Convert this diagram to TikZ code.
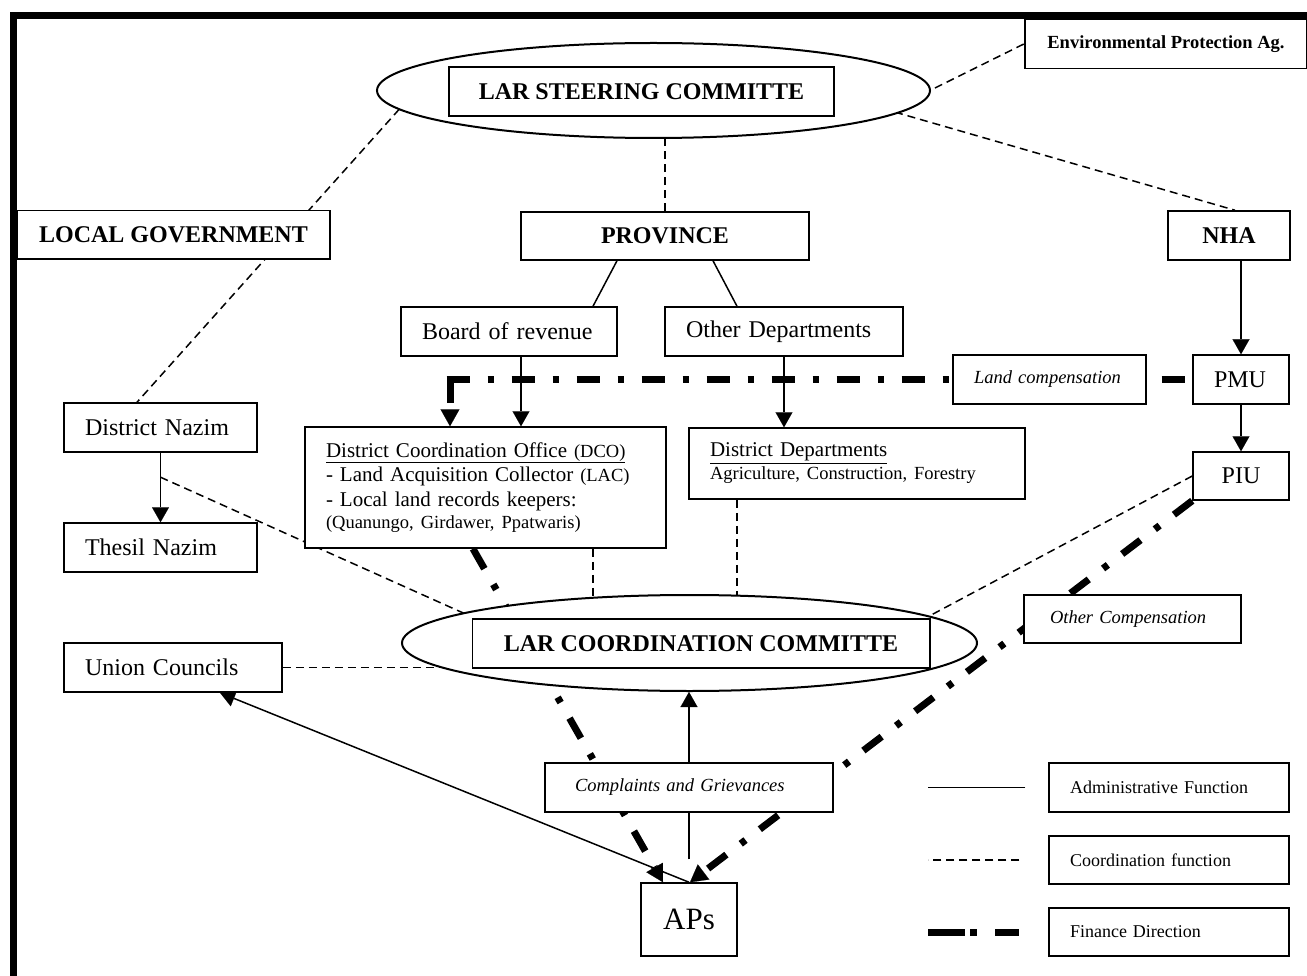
\documentclass[tikz,border=0pt]{standalone}
\usepackage{fontspec}
\setmainfont{Liberation Serif}
\usetikzlibrary{shapes.geometric,arrows.meta,calc,backgrounds}
\begin{document}
\begin{tikzpicture}[x=1pt,y=-1pt,
  bx/.style={draw, line width=1.5pt, fill=white, inner sep=0pt, align=center},
  lb/.style={bx, align=left, inner xsep=21pt},
  ell/.style={ellipse, draw, line width=2pt, fill=white, inner sep=0pt},
  hd/.style={font=\fontsize{24}{28}\selectfont\bfseries},
  nm/.style={font=\fontsize{24}{28}\selectfont},
  smi/.style={font=\fontsize{18.5}{22}\selectfont\itshape},
  lgt/.style={font=\fontsize{18}{22}\selectfont},
  adm/.style={line width=1.5pt, -{Triangle[length=15pt,width=17pt,line width=0.1pt]}},
  admline/.style={line width=1.5pt},
  crd/.style={line width=1.5pt, dash pattern=on 8pt off 5pt},
  fin/.style={line width=7pt, dash pattern=on 23pt off 18pt on 6pt off 18pt},
  fintip/.style={-{Triangle[length=17pt,width=19pt,line width=0.1pt]}},
]
\useasboundingbox (0,0) rectangle (1307,976);

% ---- nodes ----
\node[ell, minimum width=553pt, minimum height=95pt] (steer) at (653.5,90.5) {};
\node[bx, hd, minimum width=385pt, minimum height=49pt] (steerin) at (641.5,91.5) {LAR STEERING COMMITTE};
\node[bx, font=\fontsize{18.5}{22}\selectfont\bfseries, minimum width=282pt, minimum height=49pt] (env) at (1166,43.8) {Environmental Protection Ag.};
\node[bx, hd, minimum width=313pt, minimum height=48.5pt] (lg) at (173.5,235) {LOCAL GOVERNMENT};
\node[bx, hd, minimum width=288pt, minimum height=48pt] (prov) at (665,236) {PROVINCE};
\node[bx, hd, minimum width=122pt, minimum height=49pt] (nha) at (1229,235.5) {NHA};
\node[lb, nm, text width=174pt, minimum height=49pt] (bor) at (509,331.5) {Board of revenue};
\node[lb, nm, text width=196pt, minimum height=49pt] (oth) at (784,331.5) {Other Departments};
\node[lb, smi, text width=151pt, minimum height=49pt] (landc) at (1049.5,379.5) {Land compensation};
\node[lb, nm, text width=54pt, minimum height=49pt] (pmu) at (1241,379.5) {PMU};
\node[bx, nm, minimum width=96pt, minimum height=48pt] (piu) at (1241,476) {PIU};
\node[lb, nm, text width=151pt, minimum height=49pt] (dn) at (160.5,427.5) {District Nazim};
\node[lb, nm, text width=151pt, minimum height=49pt] (tn) at (160.5,547.5) {Thesil Nazim};
\node[lb, font=\fontsize{21}{24.5}\selectfont, text width=319pt, minimum height=121pt] (dco) at (485.5,487.5)
 {\underline{District Coordination Office {\fontsize{18.5}{20}\selectfont(DCO)}}\\
  - Land Acquisition Collector {\fontsize{18.5}{20}\selectfont(LAC)}\\
  - Local land records keepers:\\[-2pt]
  {\fontsize{18.5}{20}\selectfont(Quanungo, Girdawer, Ppatwaris)}};
\node[lb, font=\fontsize{21}{23}\selectfont, text width=294pt, minimum height=71pt] (dd) at (857,463.5)
 {\underline{District Departments}\\[0pt]
  {\fontsize{18.5}{20}\selectfont Agriculture, Construction, Forestry}};
\node[ell, minimum width=575pt, minimum height=96pt] (coord) at (689.5,643) {};
\node[bx, hd, minimum width=457.5pt, minimum height=49pt] (coordin) at (701,643.5) {LAR COORDINATION COMMITTE};
\node[lb, smi, text width=165pt, inner xsep=26pt, minimum height=48pt] (othc) at (1132.5,619) {Other Compensation};
\node[lb, nm, text width=176pt, minimum height=49pt] (uc) at (173,667.5) {Union Councils};
\node[lb, smi, text width=228pt, inner xsep=30pt, minimum height=49pt] (comp) at (689,787.5) {Complaints and Grievances};
\node[bx, font=\fontsize{31}{36}\selectfont, minimum width=96pt, minimum height=73pt] (aps) at (689,919.5) {APs};
\node[lb, lgt, text width=198pt, minimum height=49pt] (leg1) at (1169,787.5) {Administrative Function};
\node[lb, lgt, text width=198pt, minimum height=48pt] (leg2) at (1169,860) {Coordination function};
\node[lb, lgt, text width=198pt, minimum height=48pt] (leg3) at (1169,932) {Finance Direction};

% ---- frame ----
\draw[line width=7pt] (13,985) -- (13,15.5) -- (1315,15.5);

% ---- connectors ----
\begin{pgfonlayer}{background}
\fill[white] (0,0) rectangle (1307,976);
% coordination (dashed)
\draw[crd] ($(steer.center)+(246.5,14.8)$) -- (env.west);
\draw[crd] ($(steer.center)+(216.5,14.4)$) -- ([xshift=6pt]nha.north);
\draw[crd] ($(steer.center)+(-236.8,-0.8)$) -- ([xshift=-23.5pt]dn.north);
\draw[crd] (prov.north) -- (prov.north |- steer.center);
\coordinate (dnm) at ($(dn.south)!0.352!(tn.north)$);
\draw[crd] (dnm) -- ($(coord.center)+(-209.5,-22.5)$);
\draw[crd] (uc.east) -- (uc.east -| coord.center);
\draw[crd] ([xshift=107.5pt]dco.south) -- ([xshift=107.5pt]dco.south |- coord.center);
\draw[crd] ([xshift=-120pt]dd.south) -- ([xshift=-120pt]dd.south |- coord.center);
\draw[crd] (piu.west) -- ($(coord.center)+(210.5,-11.4)$);
% administrative (solid)
\draw[admline] ([xshift=-48pt]prov.south) -- ([xshift=84pt]bor.north);
\draw[admline] ([xshift=48pt]prov.south) -- ([xshift=-47pt]oth.north);
\draw[adm] ([xshift=12pt]bor.south) -- ([xshift=12pt]bor.south |- dco.north);
\draw[adm] (oth.south) -- (oth.south |- dd.north);
\draw[adm] (pmu.north |- nha.south) -- (pmu.north);
\draw[adm] (pmu.south) -- (piu.north);
\draw[adm] (dn.south) -- (tn.north);
\draw[adm] (aps.north) -- ([xshift=47pt]uc.south);
\draw[adm] ([yshift=23pt]aps.north) -- (aps.north |- coord.south);
% finance (dash-dot)
\coordinate (fc) at ([xshift=-35.5pt]dco.north |- pmu.west);
\draw[fin] ([xshift=-3.5pt]fc) -- (pmu.west);
\draw[fin, fintip] (fc) -- ([xshift=-35.5pt]dco.north);
\draw[fin, fintip] ([xshift=-12.5pt]dco.south) -- ([xshift=-26pt]aps.north);
\draw[fin, fintip] (piu.south west) -- ([xshift=1pt]aps.north);
% legend lines
\draw[admline] ([xshift=-23pt]leg1.west) -- ++(-97,0);
\draw[crd] ([xshift=-29pt]leg2.west) -- ++(-91,0);
\draw[line width=7pt, dash pattern=on 37pt off 5pt on 7pt off 18pt on 24pt off 60pt] ([xshift=-120pt]leg3.west) -- ([xshift=-29pt]leg3.west);
\end{pgfonlayer}
\end{tikzpicture}
\end{document}
